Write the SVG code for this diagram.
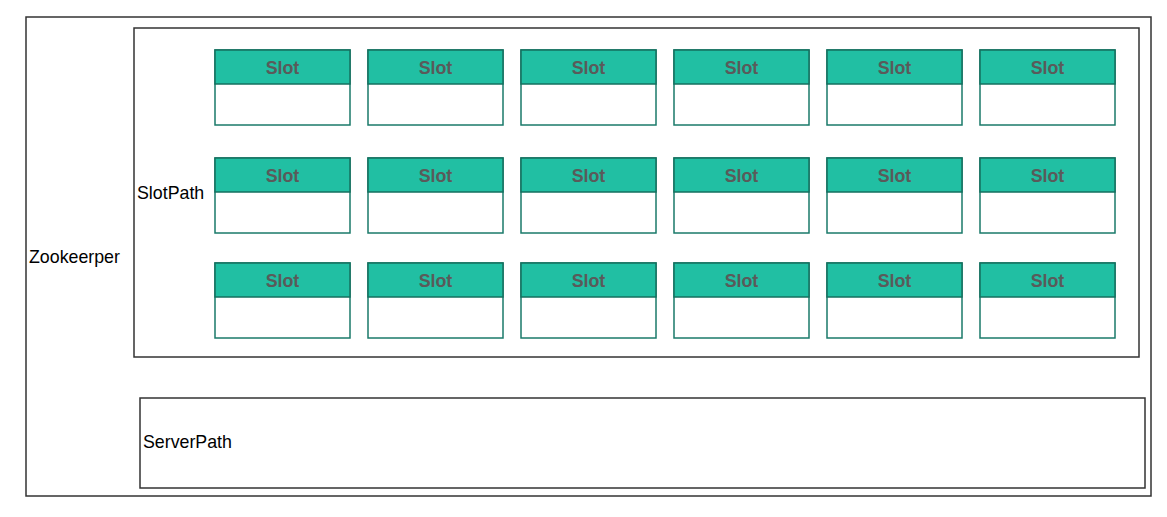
<svg xmlns="http://www.w3.org/2000/svg" width="1167" height="517" viewBox="0 0 1167 517">
<style>
.box{fill:#fff;stroke:#333;stroke-width:1.5}
.lbl{font-family:"Liberation Sans",Arial,sans-serif;font-size:17.8px;fill:#000;dominant-baseline:central}
.sb{fill:#fff;stroke:#1a7a6a;stroke-width:1.5}
.sh{fill:#21bfa3;stroke:#14705f;stroke-width:1.5}
.st{font-family:"Liberation Sans",Arial,sans-serif;font-size:17.8px;font-weight:bold;fill:#5a5a5a;text-anchor:middle;dominant-baseline:central}
</style>
<defs>
<g id="slot">
<rect class="sb" x="0" y="0" width="135" height="75"/>
<rect class="sh" x="0" y="0" width="135" height="34"/>
<text class="st" x="67.5" y="17.5">Slot</text>
</g>
</defs>
<g id="zookeeper">
<rect class="box" x="26" y="17" width="1125" height="479"/>
<text class="lbl" x="29" y="257">Zookeerper</text>
</g>
<g id="slotpath">
<rect class="box" x="134" y="28" width="1005" height="329"/>
<text class="lbl" x="137" y="193">SlotPath</text>
</g>
<g id="serverpath">
<rect class="box" x="140" y="398" width="1005" height="90"/>
<text class="lbl" x="143" y="442">ServerPath</text>
</g>
<g id="slots">
<use id="s11" href="#slot" x="215" y="50"/><use id="s12" href="#slot" x="368" y="50"/><use id="s13" href="#slot" x="521" y="50"/><use id="s14" href="#slot" x="674" y="50"/><use id="s15" href="#slot" x="827" y="50"/><use id="s16" href="#slot" x="980" y="50"/>
<use id="s21" href="#slot" x="215" y="158"/><use id="s22" href="#slot" x="368" y="158"/><use id="s23" href="#slot" x="521" y="158"/><use id="s24" href="#slot" x="674" y="158"/><use id="s25" href="#slot" x="827" y="158"/><use id="s26" href="#slot" x="980" y="158"/>
<use id="s31" href="#slot" x="215" y="263"/><use id="s32" href="#slot" x="368" y="263"/><use id="s33" href="#slot" x="521" y="263"/><use id="s34" href="#slot" x="674" y="263"/><use id="s35" href="#slot" x="827" y="263"/><use id="s36" href="#slot" x="980" y="263"/>
</g>
<g id="connectors"/>
</svg>
